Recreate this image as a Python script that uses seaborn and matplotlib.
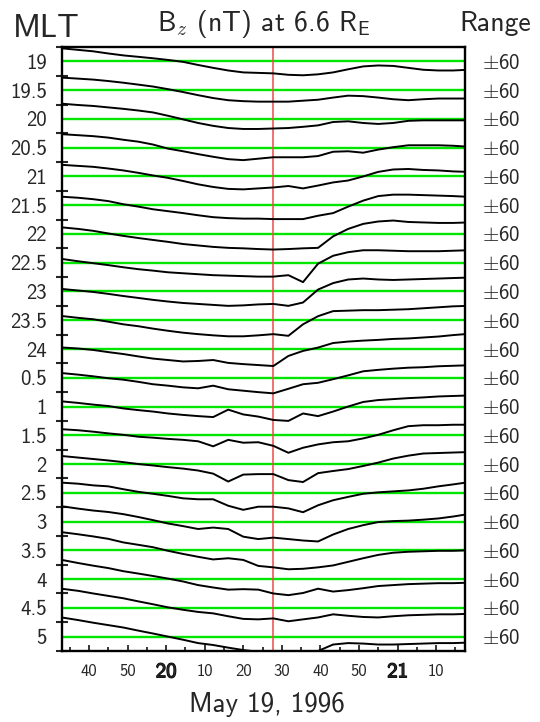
import numpy as np
import pandas as pd
import matplotlib
matplotlib.use("Agg")
import matplotlib.pyplot as plt
from matplotlib import patheffects as pe
from matplotlib.ticker import FixedLocator, MultipleLocator
import seaborn as sns

# ---- data -------------------------------------------------------------
# sample times, minutes after 19:00 UT on 1996-05-19
minutes = [33.3, 37.2, 41.1, 45.0, 48.9, 52.8, 56.6, 60.5, 64.4, 68.3,
           72.2, 76.1, 80.0, 83.9, 87.8, 91.7, 95.5, 99.4, 103.3, 107.2,
           111.1, 115.0, 118.9, 122.8, 126.7, 130.6, 134.4, 138.3]

mlt_labels = ["19", "19.5", "20", "20.5", "21", "21.5", "22", "22.5", "23",
              "23.5", "24", "0.5", "1", "1.5", "2", "2.5", "3", "3.5", "4",
              "4.5", "5"]

# Bz deviation (nT) for each magnetic local time
bz_mlt_19 = [54, 48, 42, 33, 25, 19, 13, 6, -2, -15, -27, -38, -46, -48, -50, -56,
             -58, -54, -46, -33, -21, -17, -19, -27, -35, -38, -38, -35]
bz_mlt_19_5 = [52, 48, 44, 38, 31, 23, 15, 4, -8, -21, -33, -42, -46, -48, -48, -48,
               -44, -40, -31, -23, -25, -31, -38, -42, -38, -35, -35, -35]
bz_mlt_20 = [63, 58, 54, 48, 42, 35, 27, 13, -2, -17, -29, -38, -42, -42, -40, -38,
             -33, -27, -13, -10, -17, -21, -17, -8, -6, -6, -6, -6]
bz_mlt_20_5 = [56, 52, 48, 42, 33, 25, 13, -4, -15, -27, -38, -48, -52, -46, -40, -40,
               -40, -35, -17, -15, -21, -8, 2, 10, 10, 10, 8, 4]
bz_mlt_21 = [48, 44, 40, 33, 25, 15, 4, -6, -19, -33, -44, -52, -54, -50, -46, -40,
             -50, -38, -25, -17, 0, 19, 29, 31, 27, 25, 21, 19]
bz_mlt_21_5 = [35, 31, 25, 17, 4, -6, -17, -25, -33, -42, -50, -54, -56, -56, -58, -58,
               -58, -44, -33, -6, 19, 38, 44, 44, 42, 40, 38, 35]
bz_mlt_22 = [27, 21, 13, 2, -8, -17, -25, -33, -42, -48, -54, -58, -60, -63, -65, -63,
             -60, -58, -10, 21, 42, 52, 56, 50, 48, 46, 46, 48]
bz_mlt_22_5 = [15, 6, -2, -10, -19, -27, -33, -40, -44, -48, -52, -54, -56, -58, -58, -52,
               -81, -4, 29, 44, 52, 52, 50, 48, 48, 48, 50, 52]
bz_mlt_23 = [10, 4, -2, -10, -19, -27, -35, -42, -48, -52, -56, -60, -58, -54, -52, -60,
             -46, 8, 35, 50, 54, 50, 48, 50, 52, 54, 56, 58]
bz_mlt_23_5 = [17, 10, 4, -6, -17, -25, -35, -44, -52, -58, -63, -67, -67, -63, -58, -65,
               -17, 17, 38, 40, 42, 42, 44, 46, 50, 54, 58, 60]
bz_mlt_24 = [6, 2, -4, -13, -21, -31, -40, -46, -52, -50, -46, -58, -63, -67, -71, -29,
             -8, 6, 25, 31, 35, 38, 42, 44, 48, 52, 58, 63]
bz_mlt_00_5 = [19, 13, 6, -2, -8, -17, -27, -33, -40, -44, -33, -48, -54, -60, -65, -46,
               -27, -21, -6, 10, 27, 33, 38, 42, 44, 48, 50, 52]
bz_mlt_01 = [21, 15, 8, 2, -8, -15, -21, -29, -35, -40, -44, -13, -33, -42, -56, -60,
             -29, -40, -21, 0, 19, 27, 31, 35, 38, 42, 44, 46]
bz_mlt_01_5 = [25, 21, 15, 8, 2, -6, -10, -15, -19, -25, -46, -19, -31, -29, -44, -73,
               -52, -38, -29, -25, -13, 2, 21, 38, 42, 42, 44, 44]
bz_mlt_02 = [33, 27, 21, 15, 8, 0, -6, -13, -19, -27, -40, -73, -44, -42, -42, -67,
             -75, -38, -29, -21, -8, 6, 23, 35, 44, 46, 48, 50]
bz_mlt_02_5 = [42, 38, 31, 27, 15, 4, -4, -13, -23, -27, -27, -54, -71, -58, -58, -65,
               -81, -52, -31, -17, -4, 2, 6, 10, 17, 27, 35, 44]
bz_mlt_03 = [63, 54, 46, 40, 31, 19, 6, -8, -19, -31, -25, -31, -63, -73, -67, -73,
             -79, -83, -54, -31, -15, -2, 2, 4, 8, 13, 21, 31]
bz_mlt_03_5 = [75, 67, 58, 48, 33, 23, 13, -2, -15, -27, -38, -33, -40, -65, -71, -79,
               -77, -71, -63, -48, -33, -19, -10, -6, -4, -2, -2, 0]
bz_mlt_04 = [79, 67, 56, 46, 33, 23, 13, 2, -10, -25, -35, -44, -42, -44, -60, -67,
             -58, -40, -52, -46, -38, -29, -25, -21, -19, -17, -17, -15]
bz_mlt_04_5 = [79, 71, 60, 50, 40, 27, 15, 2, -8, -17, -23, -35, -46, -48, -44, -56,
               -48, -40, -27, -33, -38, -40, -35, -31, -29, -27, -27, -25]
bz_mlt_05 = [79, 69, 58, 48, 38, 25, 13, 0, -13, -27, -35, -46, -56, -63, -67, -69,
             -67, -60, -33, -27, -29, -33, -33, -31, -29, -27, -27, -25]

rows = [bz_mlt_19, bz_mlt_19_5, bz_mlt_20, bz_mlt_20_5, bz_mlt_21, bz_mlt_21_5,
        bz_mlt_22, bz_mlt_22_5, bz_mlt_23, bz_mlt_23_5, bz_mlt_24, bz_mlt_00_5,
        bz_mlt_01, bz_mlt_01_5, bz_mlt_02, bz_mlt_02_5, bz_mlt_03, bz_mlt_03_5,
        bz_mlt_04, bz_mlt_04_5, bz_mlt_05]

range_labels = [r"$\pm$60"] * len(mlt_labels)
half_range = 60          # nT, half height of each row
onset_minute = 87.7      # substorm onset, 20:27.7 UT

tick_minutes = [40, 50, 60, 70, 80, 90, 100, 110, 120, 130]
tick_labels = ["40", "50", "20", "10", "20", "30", "40", "50", "21", "10"]
hour_label_idx = [2, 8]

# ---- style ------------------------------------------------------------
sns.set_style("ticks")
plt.rcParams.update({
    "font.family": ["cmss10", "DejaVu Sans"],
    "mathtext.fontset": "custom",
    "mathtext.rm": "cmss10",
    "mathtext.sf": "cmss10",
    "mathtext.it": "cmmi10",
    "axes.unicode_minus": False,
    "axes.edgecolor": "black",
    "axes.linewidth": 1.7,
})

W, H = 540, 722
fig = plt.figure(figsize=(W / 100, H / 100), dpi=100)
ax = fig.add_axes([62 / W, 1 - 651 / H, (465 - 62) / W, (651 - 47) / H])

# stack the traces: each row is 2*half_range tall
step = 2 * half_range
offsets = [-step * k for k in range(len(rows))]
frames = []
for lab, off, vals in zip(mlt_labels, offsets, rows):
    v = np.asarray(vals, dtype=float)
    frames.append(pd.DataFrame({"minute": minutes, "bz": v, "mlt": lab,
                                "stacked": v + off}))
df = pd.concat(frames, ignore_index=True)

for off in offsets:
    ax.axhline(off, color="#00e600", lw=1.7, zorder=1)

ax.axvline(onset_minute, color="#ee4a4a", lw=1.1, zorder=2)

sns.lineplot(data=df, x="minute", y="stacked", units="mlt", estimator=None,
             sort=False, color="black", lw=1.4, legend=False, ax=ax, zorder=3)

ax.set_xlim(33.0, 137.5)
ax.set_ylim(offsets[-1] - half_range, offsets[0] + half_range)

# x axis: UT minutes, hour marks bold
ax.xaxis.set_major_locator(FixedLocator(tick_minutes))
ax.set_xticklabels(tick_labels)
ax.xaxis.set_minor_locator(MultipleLocator(5))
ax.tick_params(axis="x", which="major", direction="in", length=4.5, width=1.3,
               pad=15, labelsize=12, top=False, bottom=True)
ax.tick_params(axis="x", which="minor", direction="in", length=3, width=1.3,
               top=False, bottom=True)

# y axis: MLT labels at row centres, ticks at row boundaries
bounds = [offsets[0] + half_range - step * j for j in range(len(rows) + 1)]
ax.set_yticks(offsets)
ax.set_yticklabels(mlt_labels)
ax.set_yticks(bounds, minor=True)
ax.tick_params(axis="y", which="major", length=0, pad=11, labelsize=15,
               left=True, right=False)
ax.tick_params(axis="y", which="minor", direction="inout", length=8, width=1.5,
               left=True, right=True)

ax.set_xlabel("")
ax.set_ylabel("")

# right-hand range labels
ax2 = ax.twinx()
ax2.set_ylim(ax.get_ylim())
ax2.set_yticks(offsets)
ax2.set_yticklabels(range_labels)
ax2.tick_params(axis="y", length=0, pad=12, labelsize=15)
for lbl in ax2.get_yticklabels():
    lbl.set_math_fontfamily("cm")
for s in ax2.spines.values():
    s.set_visible(False)

for lbl in ax.get_xticklabels():
    lbl.set_va("center")
for i in hour_label_idx:
    lbl = ax.get_xticklabels()[i]
    lbl.set_fontsize(15)
    lbl.set_path_effects([pe.withStroke(linewidth=0.9, foreground="black")])

# headings
fig.text(264 / W, 1 - 31.5 / H, r"$\mathsf{B}_z$ (nT) at 6.6 $\mathsf{R}_\mathsf{E}$",
         ha="center", va="baseline", fontsize=20)
fig.text(46 / W, 1 - 37 / H, "MLT", ha="center", va="baseline", fontsize=23)
fig.text(495 / W, 1 - 31.5 / H, "Range", ha="center", va="baseline", fontsize=20)
fig.text(267 / W, 1 - 712 / H, "May 19, 1996", ha="center", va="baseline",
         fontsize=19.5)

fig.savefig("out.png", dpi=100)
